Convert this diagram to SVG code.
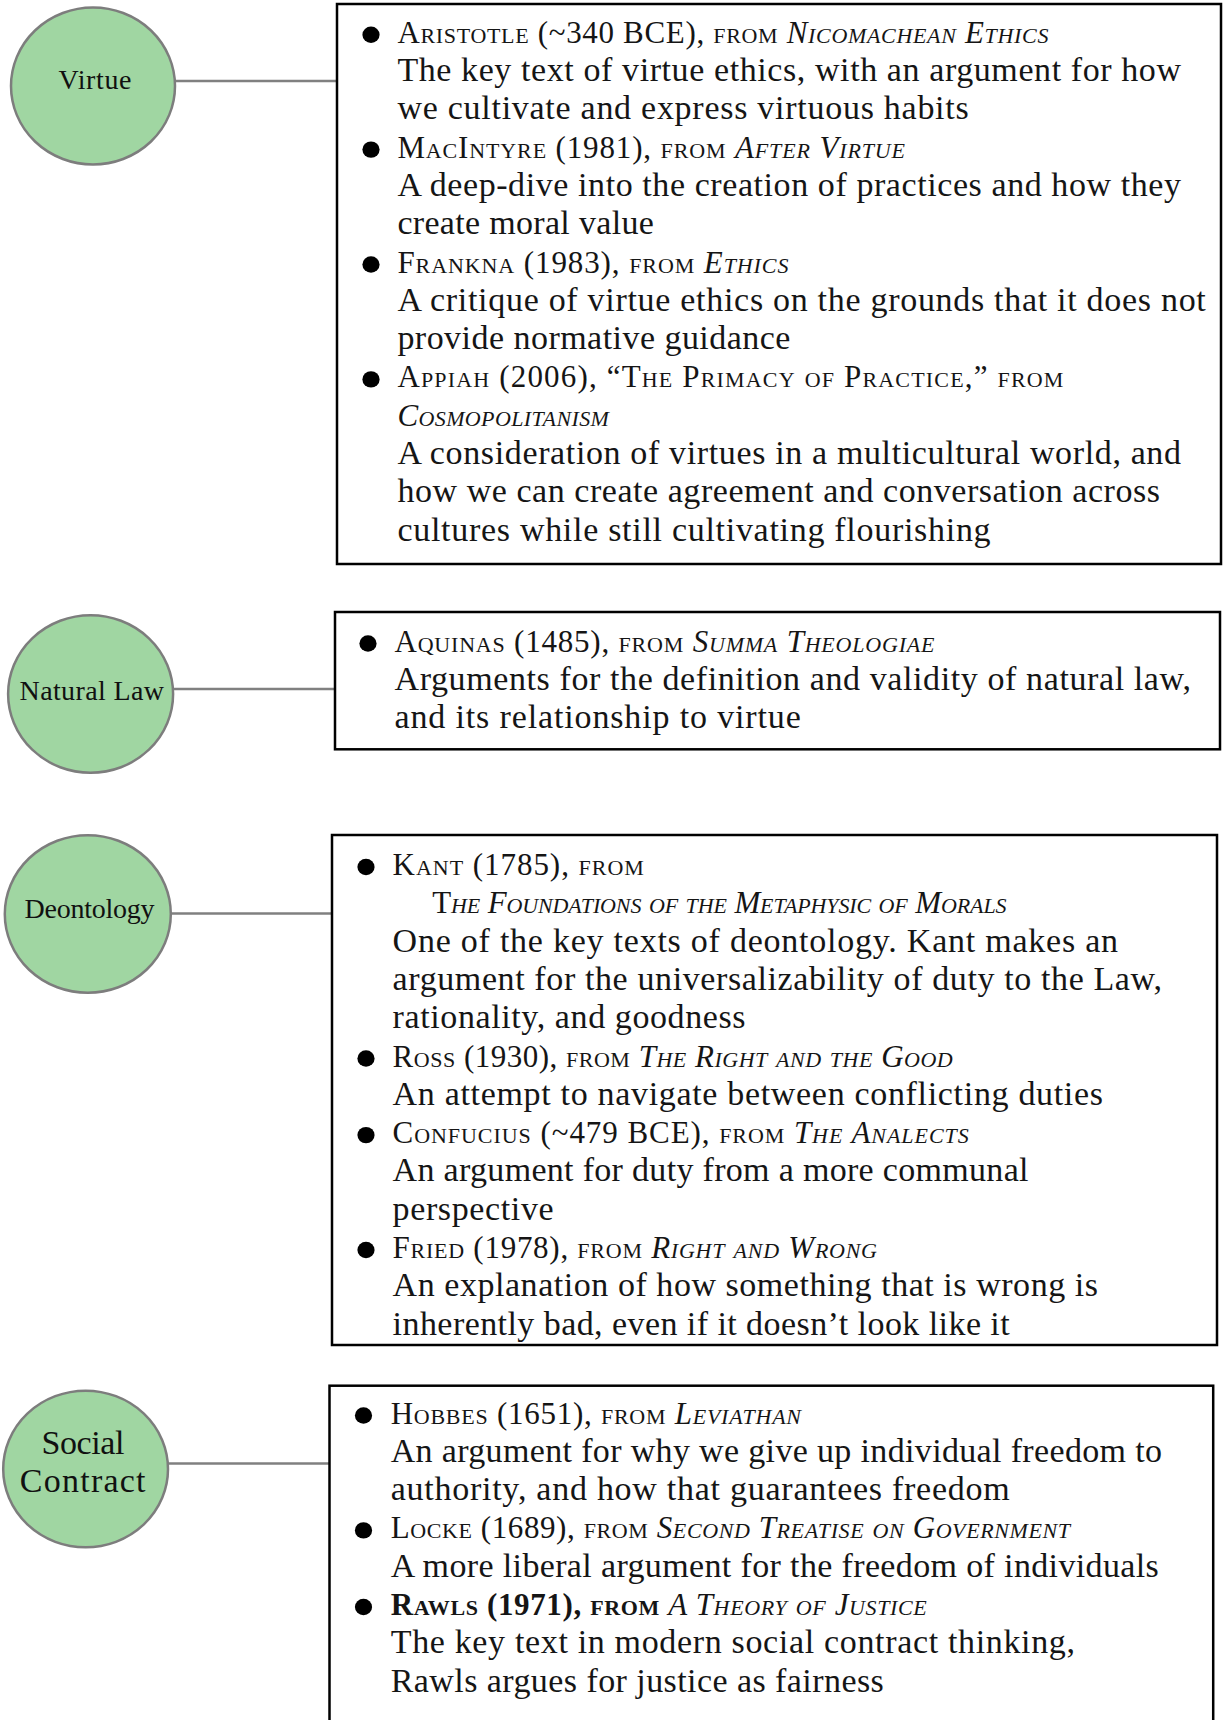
<svg xmlns="http://www.w3.org/2000/svg" width="1225" height="1720" viewBox="0 0 1225 1720">
<style>
  .node ellipse { fill: #a0d6a2; stroke: #7d7d7d; stroke-width: 2.5; }
  .lbl { font-family: "Liberation Serif", "Times New Roman", serif; font-size: 28px; fill: #111; text-anchor: middle; }
  .lbl2 { font-family: "Liberation Serif", "Times New Roman", serif; font-size: 34px; fill: #111; text-anchor: middle; }
  .box rect { fill: #ffffff; stroke: #000000; stroke-width: 2.5; }
  .body { font-family: "Liberation Serif", "Times New Roman", serif; font-size: 34px; fill: #151515; }
  .hdr { font-family: "Liberation Serif", "Times New Roman", serif; font-size: 31px; fill: #151515; font-variant: small-caps; }
  .it { font-style: italic; }
  .b { font-weight: bold; }
  .nb { font-weight: normal; }
  .bul { fill: #000; }
  .conn line { stroke: #808080; stroke-width: 2.5; }
</style>
<rect x="0" y="0" width="1225" height="1720" fill="#ffffff"/>

<g id="connectors" class="conn">
  <line x1="175" y1="81" x2="337" y2="81"/>
  <line x1="173" y1="689" x2="335" y2="689"/>
  <line x1="171" y1="913.5" x2="332" y2="913.5"/>
  <line x1="168" y1="1463.5" x2="329.5" y2="1463.5"/>
</g>

<g id="node-virtue" class="node">
  <ellipse cx="93" cy="86" rx="82" ry="78.5"/>
  <text class="lbl" x="95" y="89.3" textLength="73">Virtue</text>
</g>
<g id="node-natural-law" class="node">
  <ellipse cx="90.6" cy="694" rx="82.5" ry="78.8"/>
  <text class="lbl" x="91.8" y="700" textLength="144.5">Natural Law</text>
</g>
<g id="node-deontology" class="node">
  <ellipse cx="87.8" cy="914" rx="83" ry="78.8"/>
  <text class="lbl" x="89.5" y="918.3" textLength="130">Deontology</text>
</g>
<g id="node-social-contract" class="node">
  <ellipse cx="85.6" cy="1469" rx="82.4" ry="78.3"/>
  <text class="lbl2" x="83" y="1454" textLength="83">Social</text>
  <text class="lbl2" x="82.7" y="1491.7" textLength="125.7">Contract</text>
</g>

<g id="box-virtue" class="box">
  <rect x="337" y="4" width="884" height="560"/>
  <ellipse class="bul" cx="371" cy="34.7" rx="8.6" ry="8.2"/>
  <ellipse class="bul" cx="371" cy="149.6" rx="8.6" ry="8.2"/>
  <ellipse class="bul" cx="371" cy="264.5" rx="8.6" ry="8.2"/>
  <ellipse class="bul" cx="371" cy="379.4" rx="8.6" ry="8.2"/>
  <text class="hdr" x="397.4" y="42.7" textLength="651">Aristotle (~340 BCE), from <tspan class="it">Nicomachean Ethics</tspan></text>
  <text class="body" x="397.4" y="81" textLength="783.6">The key text of virtue ethics, with an argument for how</text>
  <text class="body" x="397.4" y="119.3" textLength="571.3">we cultivate and express virtuous habits</text>
  <text class="hdr" x="397.4" y="157.6" textLength="507.6">MacIntyre (1981), from <tspan class="it">After Virtue</tspan></text>
  <text class="body" x="397.4" y="195.9" textLength="783.6">A deep-dive into the creation of practices and how they</text>
  <text class="body" x="397.4" y="234.2" textLength="256.4">create moral value</text>
  <text class="hdr" x="397.4" y="272.5" textLength="391">Frankna (1983), from <tspan class="it">Ethics</tspan></text>
  <text class="body" x="397.4" y="310.8" textLength="808.4">A critique of virtue ethics on the grounds that it does not</text>
  <text class="body" x="397.4" y="349.1" textLength="393">provide normative guidance</text>
  <text class="hdr" x="397.4" y="387.4" textLength="666">Appiah (2006), “The Primacy of Practice,” from</text>
  <text class="hdr it" x="397.4" y="425.7" textLength="211.5">Cosmopolitanism</text>
  <text class="body" x="397.4" y="464" textLength="783.6">A consideration of virtues in a multicultural world, and</text>
  <text class="body" x="397.4" y="502.3" textLength="762.6">how we can create agreement and conversation across</text>
  <text class="body" x="397.4" y="540.6" textLength="593.2">cultures while still cultivating flourishing</text>
</g>

<g id="box-natural-law" class="box">
  <rect x="335" y="612" width="885" height="137.3"/>
  <ellipse class="bul" cx="368" cy="643.5" rx="8.6" ry="8.2"/>
  <text class="hdr" x="394.5" y="651.5" textLength="540">Aquinas (1485), from <tspan class="it">Summa Theologiae</tspan></text>
  <text class="body" x="394.5" y="689.8" textLength="796.5">Arguments for the definition and validity of natural law,</text>
  <text class="body" x="394.5" y="728.1" textLength="406.3">and its relationship to virtue</text>
</g>

<g id="box-deontology" class="box">
  <rect x="332" y="835" width="885" height="510"/>
  <ellipse class="bul" cx="366" cy="867" rx="8.6" ry="8.2"/>
  <ellipse class="bul" cx="366" cy="1058.5" rx="8.6" ry="8.2"/>
  <ellipse class="bul" cx="366" cy="1135.1" rx="8.6" ry="8.2"/>
  <ellipse class="bul" cx="366" cy="1250" rx="8.6" ry="8.2"/>
  <text class="hdr" x="392.6" y="875" textLength="251.2">Kant (1785), from</text>
  <text class="hdr" x="432.2" y="913.3" textLength="574.3">T<tspan class="it">he Foundations of the Metaphysic of Morals</tspan></text>
  <text class="body" x="392.6" y="951.6" textLength="725.4">One of the key texts of deontology. Kant makes an</text>
  <text class="body" x="392.6" y="989.9" textLength="769.4">argument for the universalizability of duty to the Law,</text>
  <text class="body" x="392.6" y="1028.2" textLength="352.9">rationality, and goodness</text>
  <text class="hdr" x="392.6" y="1066.5" textLength="560.1">Ross (1930), from <tspan class="it">The Right and the Good</tspan></text>
  <text class="body" x="392.6" y="1104.8" textLength="710.4">An attempt to navigate between conflicting duties</text>
  <text class="hdr" x="392.6" y="1143.1" textLength="576.1">Confucius (~479 BCE), from <tspan class="it">The Analects</tspan></text>
  <text class="body" x="392.6" y="1181.4" textLength="635.9">An argument for duty from a more communal</text>
  <text class="body" x="392.6" y="1219.7" textLength="161">perspective</text>
  <text class="hdr" x="392.6" y="1258" textLength="484.4">Fried (1978), from <tspan class="it">Right and Wrong</tspan></text>
  <text class="body" x="392.6" y="1296.3" textLength="705.4">An explanation of how something that is wrong is</text>
  <text class="body" x="392.6" y="1334.6" textLength="617.1">inherently bad, even if it doesn’t look like it</text>
</g>

<g id="box-social-contract" class="box">
  <rect x="329.5" y="1385.7" width="883.7" height="345"/>
  <ellipse class="bul" cx="363.5" cy="1415.5" rx="8.6" ry="8.2"/>
  <ellipse class="bul" cx="363.5" cy="1530.4" rx="8.6" ry="8.2"/>
  <ellipse class="bul" cx="363.5" cy="1607" rx="8.6" ry="8.2"/>
  <text class="hdr" x="390.7" y="1423.5" textLength="410.3">Hobbes (1651), from <tspan class="it">Leviathan</tspan></text>
  <text class="body" x="390.7" y="1461.8" textLength="771.3">An argument for why we give up individual freedom to</text>
  <text class="body" x="390.7" y="1500.1" textLength="619">authority, and how that guarantees freedom</text>
  <text class="hdr" x="390.7" y="1538.4" textLength="679.3">Locke (1689), from <tspan class="it">Second Treatise on Government</tspan></text>
  <text class="body" x="390.7" y="1576.7" textLength="768.1">A more liberal argument for the freedom of individuals</text>
  <text class="hdr b" x="390.7" y="1615" textLength="536.1">Rawls (1971), from <tspan class="it nb">A Theory of Justice</tspan></text>
  <text class="body" x="390.7" y="1653.3" textLength="684.3">The key text in modern social contract thinking,</text>
  <text class="body" x="390.7" y="1691.6" textLength="493.1">Rawls argues for justice as fairness</text>
</g>
</svg>
